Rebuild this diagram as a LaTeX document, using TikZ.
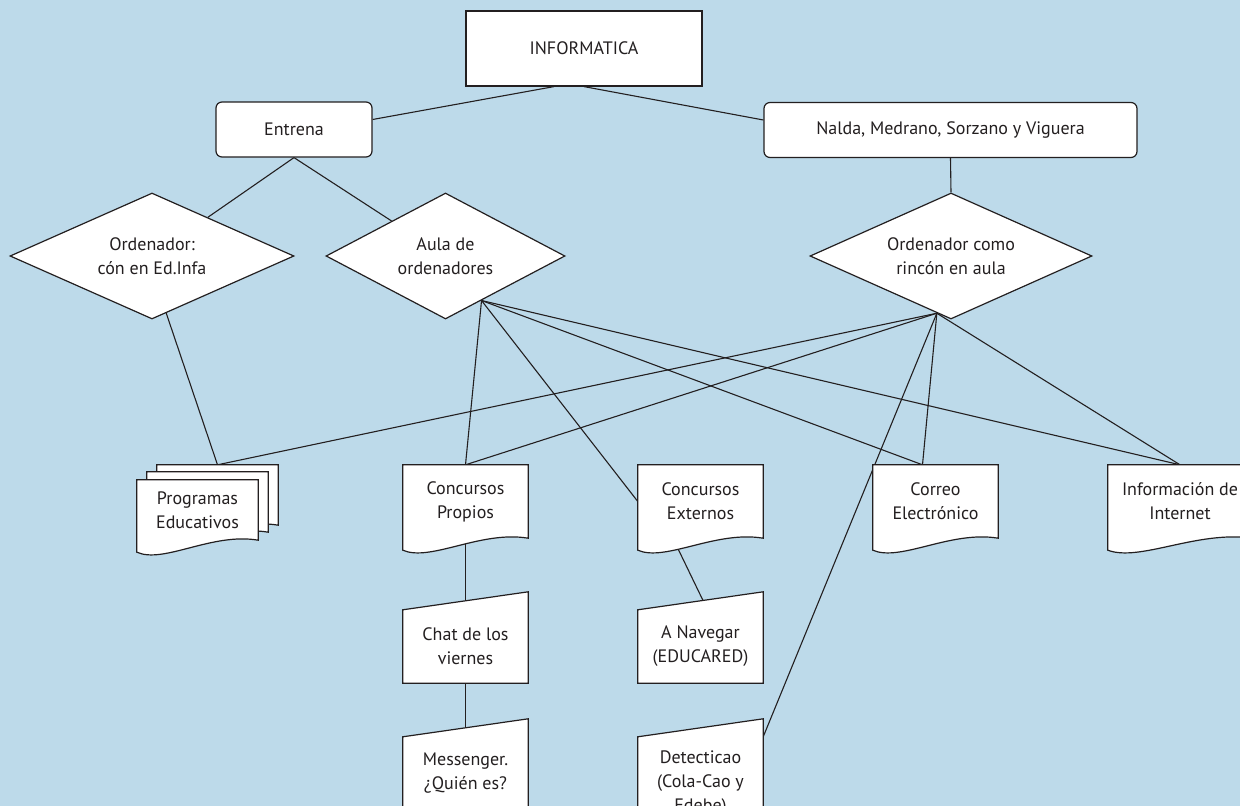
\documentclass[tikz,border=0pt]{standalone}
\usepackage{fontspec}
\setmainfont{PT Sans}
\usetikzlibrary{shapes.geometric,calc}
\definecolor{skyblue}{RGB}{189,218,234}
\definecolor{inkgray}{RGB}{35,31,32}
\pgfdeclarelayer{background}
\pgfsetlayers{background,main}
\tikzset{
  every node/.style={font=\fontsize{18}{24}\selectfont, text=inkgray, align=center},
  box/.style={draw=inkgray, line width=1.2pt, fill=white},
  plainbox/.style={box, rectangle, minimum width=236pt, minimum height=75pt},
  roundbox/.style={box, rectangle, rounded corners=6pt, minimum height=55pt},
  decision/.style={box, diamond, aspect=2.2, inner sep=0pt, minimum height=126pt},
  doctext/.style={rectangle, inner sep=0pt, minimum width=125pt, minimum height=73pt},
  link/.style={draw=inkgray, line width=1.1pt},
  outline/.style={draw=inkgray, line width=1.2pt, fill=white},
}
\begin{document}
\begin{tikzpicture}[x=1pt,y=-1pt]
\def\docpath#1#2{\draw[outline] ($(#1.north west)+#2$) -- ($(#1.north east)+#2$) -- ($(#1.south east)+#2$)
  .. controls ($(#1.south west)!0.62!(#1.south east)+(0,-8)+#2$) and ($(#1.south west)!0.22!(#1.south east)+(0,24)+#2$)
  .. ($(#1.south west)+(0,12)+#2$) -- cycle;}
\def\manpath#1{\draw[outline] (#1.south west) -- (#1.north west) -- ($(#1.north east)+(0,-18)$) -- (#1.south east) -- cycle;}

\useasboundingbox (0,0) rectangle (1240,806);

\node[plainbox] (info) at (584,48.5) {INFORMATICA};
\node[roundbox, minimum width=156pt] (entrena) at (294,129.5) {Entrena};
\node[roundbox, minimum width=373pt] (nalda) at (950.5,130) {Nalda, Medrano, Sorzano y Viguera};

\node[decision, minimum width=284pt] (ordinfa) at (152,256) {Ordenador:\\cón en Ed.Infa};
\node[decision, minimum width=239pt] (aula) at (445.5,256) {Aula de\\ordenadores};
\node[decision, minimum width=282pt] (rincon) at (951,256) {Ordenador como\\rincón en aula};

\node[doctext, minimum width=121pt, minimum height=60pt] (prog) at (197.5,510) {Programas\\Educativos};
\node[doctext] (cprop) at (465.5,501.5) {Concursos\\Propios};
\node[doctext] (cext) at (700.5,501.5) {Concursos\\Externos};
\node[doctext] (correo) at (935.5,501.5) {Correo\\Electrónico};
\node[doctext, minimum width=144pt] (inter) at (1180,501.5) {Información de\\Internet};
\node[doctext] (chat) at (465.5,646.5) {Chat de los\\viernes};
\node[doctext] (navegar) at (700.5,646.5) {A Navegar\\(EDUCARED)};
\node[doctext] (messenger) at (465.5,773.5) {Messenger.\\¿Quién es?};
\node[doctext, minimum height=92pt] (detect) at (700.5,783) {Detecticao\\(Cola-Cao y\\Edebe)};

\coordinate (aulaout) at ($(aula.south)!0.3!(aula.east)$);
\coordinate (rinconout) at ($(rincon.south)!0.1!(rincon.west)$);
\coordinate (progtop) at ($(prog.north)+(20,-15)$);
\coordinate (correotop) at ($(correo.north)+(-13,0)$);

\begin{pgfonlayer}{background}
\fill[skyblue] (0,0) rectangle (1240,806);
\draw[link] ($(info.south)+(-30,0)$) -- ($(entrena.east)+(0,-10)$);
\draw[link] (info.south) -- ($(nalda.west)+(0,-10)$);
\draw[link] (entrena.south) -- (ordinfa);
\draw[link] (entrena.south) -- (aula);
\draw[link] (nalda.south) -- (rincon.north);
\draw[link] ($(ordinfa.south)!0.1!(ordinfa.east)$) -- (progtop);
\foreach \t in {cprop.north, cext.west, correotop, inter.north}
  \draw[link] (aulaout) -- (\t);
\foreach \t in {progtop, cprop.north, correotop, inter.north, detect.north east}
  \draw[link] (rinconout) -- (\t);
\draw[link] (cprop.south) -- (chat.north);
\draw[link] (chat.south) -- (messenger.north);
\draw[link] ($(cext.south west)!0.28!(cext.south east)$) -- ($(navegar.north)+(7,0)$);
% document sheets
\docpath{prog}{(20,-15)}
\docpath{prog}{(10,-8)}
\docpath{prog}{(0,0)}
\foreach \d in {cprop,cext,correo,inter} {\docpath{\d}{(0,0)}}
\foreach \m in {chat,navegar,messenger,detect} {\manpath{\m}}
\end{pgfonlayer}
\end{tikzpicture}
\end{document}
